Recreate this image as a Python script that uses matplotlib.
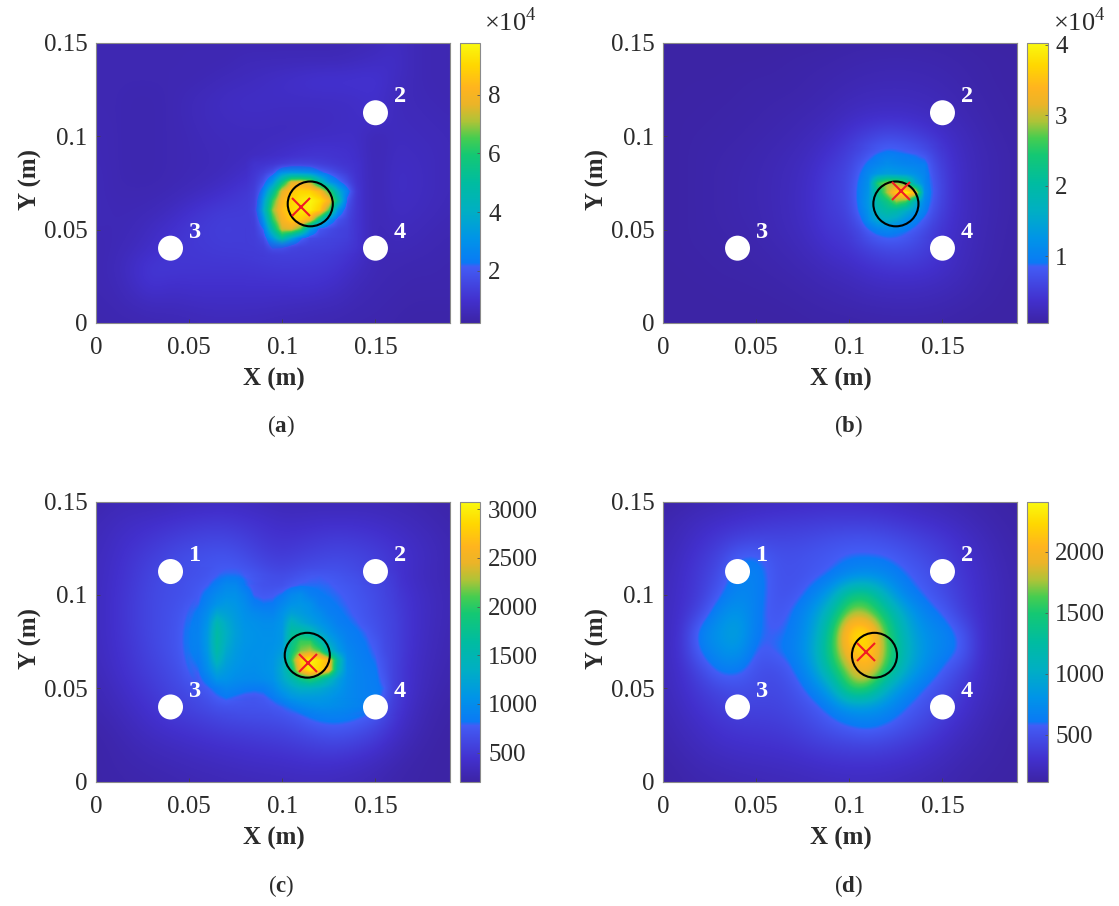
import numpy as np
import matplotlib
matplotlib.use("Agg")
import matplotlib.pyplot as plt
from matplotlib.colors import LinearSegmentedColormap
from matplotlib.patches import Ellipse

plt.rcParams['font.family'] = ['Liberation Serif', 'DejaVu Serif']
plt.rcParams['mathtext.fontset'] = 'custom'
plt.rcParams['mathtext.rm'] = 'Liberation Serif'
plt.rcParams['mathtext.bf'] = 'Liberation Serif:bold'

grid_x = [0.01 * i for i in range(20)]
grid_y = [0.15 - 0.01 * i for i in range(16)]

# rows run from y = 0.15 (top) to y = 0 (bottom); units of the colour bar
values_a = [
 [.5,.5,.5,.5,.5,.5,.5,.5,.5,.5,.5,.5,.5,.5,.55,.6,.8,.6,.5,.5],
 [.5,.5,.5,.5,.5,.5,.5,.5,.6,.6,.6,.6,.6,.6,.7,.8,.9,.6,.5,.5],
 [.5,.5,.5,.5,.5,.5,.55,.65,.7,.8,.9,1.,1.1,1.1,1.1,1.1,.8,.6,.5,.5],
 [.5,.5,.45,.45,.5,.6,.7,.8,.85,.85,.85,.85,.85,.85,.9,1.,.7,.6,.55,.5],
 [.5,.5,.45,.45,.5,.6,.7,.75,.8,.8,.75,.75,.75,.8,.85,1.,.7,.65,.6,.55],
 [.55,.5,.45,.45,.5,.55,.65,.7,.7,.7,.7,.75,.8,.85,.9,.5,.75,.7,.65,.6],
 [.55,.5,.45,.45,.5,.55,.6,.65,.7,.8,.95,1.1,1.2,1.1,1.,.5,.8,.75,.7,.6],
 [.6,.5,.45,.45,.5,.55,.6,.7,.9,1.1,1.2,1.3,1.2,1.1,1.05,.5,.85,.8,.7,.6],
 [.6,.5,.5,.5,.55,.65,.8,1.,1.2,1.4,1.5,1.5,1.4,1.3,1.1,.5,.85,.8,.7,.6],
 [.6,.55,.55,.6,.75,1.,1.2,1.3,1.3,1.4,1.5,1.5,1.4,1.3,1.1,.5,.8,.75,.65,.55],
 [.55,.55,.6,.8,1.,1.2,1.3,1.4,1.3,1.4,1.5,1.5,1.4,1.3,1.1,.5,.7,.65,.55,.5],
 [.5,.55,.7,.9,1.1,1.2,1.25,1.3,1.3,1.4,1.5,1.5,1.4,1.3,1.1,.5,.6,.55,.5,.45],
 [.5,.6,.9,1.2,1.2,1.15,1.15,1.15,1.15,1.2,1.25,1.2,1.2,1.1,.8,.55,.5,.45,.45,.4],
 [.5,.55,.8,1.1,.95,1.,1.,1.,1.,1.,1.,1.05,1.,.85,.6,.5,.45,.4,.4,.4],
 [.45,.5,.6,.7,.7,.75,.8,.8,.8,.8,.75,.7,.65,.6,.5,.45,.4,.35,.35,.35],
 [.4,.45,.45,.5,.5,.55,.6,.6,.6,.55,.5,.5,.45,.45,.4,.4,.35,.3,.3,.3],
]
values_b = [
 [.05,.05,.05,.05,.05,.05,.05,.06,.06,.07,.08,.09,.09,.09,.09,.08,.07,.06,.05,.05],
 [.06,.06,.06,.06,.06,.06,.07,.08,.09,.10,.12,.13,.14,.14,.13,.12,.10,.08,.07,.06],
 [.06,.06,.06,.06,.07,.08,.08,.09,.11,.13,.15,.17,.18,.18,.17,.15,.12,.09,.07,.06],
 [.06,.06,.07,.07,.08,.09,.10,.11,.13,.16,.20,.23,.24,.24,.22,.19,.15,.11,.08,.07],
 [.06,.07,.07,.08,.09,.10,.12,.14,.17,.21,.28,.33,.35,.34,.30,.24,.18,.13,.09,.07],
 [.06,.07,.08,.09,.10,.12,.14,.17,.22,.29,.42,.55,.65,.60,.48,.35,.24,.16,.11,.08],
 [.06,.07,.09,.10,.12,.14,.17,.21,.28,.40,.55,.78,1.0,.90,.80,.46,.28,.18,.13,.09],
 [.06,.07,.09,.11,.13,.15,.19,.24,.33,.50,.60,1.1,1.4,1.3,1.05,.52,.30,.19,.13,.09],
 [.06,.07,.09,.11,.13,.16,.19,.25,.35,.52,.62,1.25,2.9,3.95,1.2,.54,.30,.19,.13,.09],
 [.06,.07,.09,.11,.13,.15,.19,.25,.35,.50,.56,1.25,2.0,1.6,.98,.50,.30,.19,.13,.09],
 [.06,.07,.09,.10,.12,.14,.18,.23,.32,.45,.48,.85,1.1,.92,.66,.42,.28,.18,.12,.08],
 [.06,.07,.08,.09,.10,.12,.15,.19,.26,.36,.42,.55,.65,.66,.55,.38,.26,.17,.11,.08],
 [.06,.06,.07,.08,.09,.10,.12,.15,.19,.25,.30,.38,.43,.45,.42,.34,.23,.15,.10,.07],
 [.05,.06,.06,.07,.07,.08,.09,.11,.14,.17,.20,.25,.28,.28,.27,.23,.18,.12,.08,.06],
 [.05,.05,.05,.06,.06,.06,.07,.08,.10,.12,.14,.16,.17,.18,.17,.15,.12,.09,.07,.05],
 [.05,.05,.05,.05,.05,.05,.05,.06,.07,.08,.08,.09,.10,.10,.10,.09,.07,.06,.05,.05],
]
values_c = [
 [250,300,300,300,320,340,350,360,350,320,300,300,300,300,300,300,290,270,250,230],
 [300,340,380,400,430,460,480,480,450,420,380,380,400,400,400,380,350,320,280,250],
 [320,380,430,480,530,570,600,600,550,480,450,470,500,520,500,470,420,370,320,270],
 [340,400,480,550,620,680,700,720,650,560,520,560,600,620,600,550,480,400,340,280],
 [340,420,500,600,660,680,720,790,770,680,620,700,720,720,650,570,470,380,320,280],
 [350,430,520,620,660,700,800,1050,1000,800,820,950,850,800,750,650,530,420,350,290],
 [350,430,530,620,680,760,1200,1100,1000,950,950,1100,1050,950,850,700,560,430,350,290],
 [350,430,520,620,680,810,1500,1200,1050,1000,1050,1500,1350,1150,950,780,570,430,340,280],
 [340,420,500,600,680,800,1550,1150,1050,1050,1100,2300,2500,1500,1050,830,570,420,330,270],
 [320,400,480,560,640,740,1300,1050,1000,1000,1050,2800,3000,2600,1100,880,560,400,310,260],
 [290,360,440,510,600,660,800,950,900,850,880,1300,1400,1250,1100,950,560,400,290,240],
 [270,320,390,460,540,580,640,700,720,720,750,850,1000,1000,950,850,520,360,260,220],
 [240,280,340,400,450,480,520,560,580,600,620,680,750,780,720,620,450,320,240,210],
 [220,250,290,330,360,390,420,440,460,480,500,530,570,580,540,470,360,270,220,200],
 [220,240,260,280,300,320,340,360,380,390,400,420,430,420,390,340,280,230,210,200],
 [220,230,240,250,260,280,290,300,310,320,330,340,340,330,310,280,240,220,210,200],
]
values_d = [
 [130,150,170,190,210,230,240,250,260,270,270,260,250,230,210,190,170,150,130,120],
 [160,200,240,270,300,320,340,350,360,370,370,370,350,320,290,260,220,180,150,130],
 [180,230,290,350,400,430,440,440,460,490,510,510,480,440,390,340,280,220,170,140],
 [200,260,340,430,590,620,510,500,530,560,600,600,590,530,470,400,320,250,190,150],
 [210,280,370,480,680,680,520,500,540,580,700,760,700,600,530,440,350,270,200,160],
 [220,290,380,560,720,670,520,520,640,880,1450,1500,1000,670,580,480,370,280,210,160],
 [230,300,450,720,850,640,520,600,800,1200,1800,1750,1400,950,680,590,400,290,210,160],
 [230,310,680,820,950,600,570,620,850,1400,2300,2350,1600,1050,780,700,560,300,210,160],
 [230,320,620,760,850,540,600,650,900,1500,2100,2300,1700,1100,820,680,600,300,210,160],
 [220,300,450,640,640,500,470,580,800,1350,1800,2100,1550,1000,750,580,440,280,200,150],
 [210,280,370,450,490,470,450,500,650,900,1650,1600,1000,750,580,480,360,260,190,150],
 [190,250,320,380,420,420,420,460,520,640,800,800,740,590,500,420,320,230,170,140],
 [170,220,270,320,350,360,370,400,460,530,590,640,580,500,430,340,260,200,150,130],
 [150,190,230,270,290,300,310,330,370,400,420,430,410,370,320,270,210,170,140,120],
 [130,160,190,210,230,240,250,260,280,300,310,310,300,280,250,210,170,150,130,120],
 [120,140,160,170,180,190,200,210,220,230,240,240,230,210,190,170,150,130,120,115],
]

# finer readings around the hot spots, at 0.005 steps
detail_x_a = [0.08, 0.145]
detail_y_a = [0.09, 0.035]
detail_a = [
 [1.1,1.1,1.1,1.15,1.2,1.25,1.3,1.3,1.25,1.2,1.15,1.1,1.0,1.0],
 [1.15,1.2,1.2,1.3,1.5,1.7,1.75,1.7,1.55,1.4,1.25,1.15,1.05,1.0],
 [1.2,1.3,1.4,1.9,3.0,3.3,3.2,3.0,2.4,2.0,1.6,1.3,1.1,1.0],
 [1.2,1.4,1.9,3.2,5.5,7.5,7.7,7.2,5.0,3.2,2.4,1.7,1.2,1.05],
 [1.3,1.5,2.6,5.0,7.6,8.6,9.0,8.9,8.3,6.5,4.0,2.5,1.4,1.1],
 [1.3,1.6,3.4,6.3,8.2,9.0,9.4,9.7,9.2,8.2,5.0,2.0,1.3,1.1],
 [1.3,1.7,3.8,6.9,8.4,9.0,9.4,9.5,8.8,6.5,3.0,1.7,1.25,1.1],
 [1.3,1.5,3.0,6.2,8.0,8.8,8.8,8.0,5.5,3.0,1.9,1.5,1.2,1.1],
 [1.3,1.4,2.2,5.0,7.4,7.6,6.5,3.5,2.0,1.7,1.5,1.4,1.2,1.1],
 [1.3,1.35,1.7,3.2,5.0,3.6,2.3,1.7,1.6,1.5,1.45,1.35,1.2,1.05],
 [1.3,1.3,1.4,2.3,2.2,1.7,1.5,1.5,1.5,1.5,1.4,1.3,1.15,1.0],
 [1.25,1.25,1.25,1.3,1.5,1.4,1.4,1.4,1.4,1.4,1.35,1.2,1.05,.95],
]
detail_x_b = [0.10, 0.15]
detail_y_b = [0.095, 0.045]
detail_b = [
 [.46,.5,.55,.62,.72,.7,.65,.6,.55,.48,.4],
 [.55,.65,.78,.92,1.02,.96,.92,.9,.8,.6,.45],
 [.58,.75,.95,1.05,1.15,1.1,1.05,1.02,.98,.68,.5],
 [.6,.85,1.1,1.3,1.4,1.35,1.3,1.2,1.05,.72,.52],
 [.62,.92,1.2,2.5,2.9,2.9,2.6,1.6,1.1,.72,.52],
 [.62,.95,1.25,2.2,2.9,3.6,3.95,3.4,1.2,.75,.54],
 [.6,.95,1.3,2.0,2.3,2.8,2.6,1.7,1.1,.72,.52],
 [.56,.9,1.25,1.8,2.0,1.9,1.6,1.3,.98,.68,.5],
 [.52,.75,1.15,1.5,1.6,1.45,1.2,1.0,.8,.6,.47],
 [.48,.62,.85,1.05,1.1,1.0,.92,.8,.66,.52,.42],
 [.42,.52,.62,.7,.74,.72,.68,.62,.55,.46,.38],
]
detail_x_c = [0.045, 0.165]
detail_y_c = [0.115, 0.035]
detail_c = [
 [640,660,680,700,730,770,790,750,700,680,650,630,640,680,720,730,720,700,680,660,620,600,560,520,480],
 [660,680,700,730,790,880,860,780,720,680,660,650,670,720,770,780,760,730,700,680,640,610,570,530,490],
 [670,700,730,780,870,960,960,820,740,700,690,700,760,800,800,800,790,760,730,700,660,620,580,540,500],
 [680,710,760,860,970,1030,1030,930,780,750,760,820,950,1000,880,830,810,790,760,720,680,640,590,550,500],
 [700,730,790,920,1060,1120,1080,990,860,820,830,940,1050,1080,1030,880,840,810,780,740,700,650,600,550,500],
 [720,760,850,1000,1260,1200,1120,1030,970,930,920,1040,1200,1150,1080,1000,880,840,800,760,710,660,610,560,510],
 [740,790,880,1070,1500,1300,1150,1060,1030,1000,1000,1080,1450,1300,1180,1080,980,870,830,790,730,680,620,570,510],
 [750,810,900,1120,1600,1350,1180,1080,1050,1030,1030,1100,1650,1650,1500,1250,1080,950,870,830,780,700,630,570,510],
 [750,810,900,1130,1620,1330,1160,1080,1050,1040,1040,1100,1750,2050,2050,1650,1250,1050,900,850,810,740,640,570,510],
 [740,800,880,1110,1580,1270,1130,1060,1040,1040,1060,1150,1850,2200,2300,2100,1500,1150,950,880,830,770,650,570,510],
 [720,770,840,1060,1450,1200,1100,1050,1030,1040,1080,1250,2000,2800,3050,2900,2600,1600,1000,900,850,800,680,570,500],
 [690,740,800,1000,1250,1130,1060,1020,1010,1040,1080,1300,1800,2650,3000,2850,2600,1500,1020,920,870,830,700,560,500],
 [660,700,750,880,1080,1060,1000,980,970,1000,1050,1250,1500,1800,2000,1800,1500,1200,1000,920,880,850,730,560,490],
 [620,660,710,770,860,930,900,860,840,850,950,1120,1250,1350,1350,1300,1200,1100,980,920,880,860,780,560,480],
 [590,620,650,700,770,820,780,740,730,760,830,950,1080,1130,1130,1120,1080,1020,960,920,890,870,740,540,470],
 [550,580,610,640,680,700,690,680,680,700,740,800,900,980,1020,1020,1000,960,920,890,860,810,640,520,450],
 [520,540,560,590,610,620,630,630,640,650,670,710,760,800,830,840,830,810,780,740,700,650,560,480,420],
]

limits_a = [0.23, 9.77]
limits_b = [0.05, 4.03]
limits_c = [200, 3080]
limits_d = [115, 2413]
cbar_ticks_a = [2, 4, 6, 8]
cbar_ticks_b = [1, 2, 3, 4]
cbar_ticks_c = [500, 1000, 1500, 2000, 2500, 3000]
cbar_ticks_d = [500, 1000, 1500, 2000]
x_ticks = [0, 0.05, 0.1, 0.15]
y_ticks = [0, 0.05, 0.1, 0.15]
tick_labels = ['0', '0.05', '0.1', '0.15']
sensor_x_all = [0.04, 0.15, 0.04, 0.15]
sensor_y_all = [0.1125, 0.1125, 0.04, 0.04]
sensor_names = ['1', '2', '3', '4']
sensors_a = ['2', '3', '4']
sensors_b = ['2', '3', '4']
sensors_c = ['1', '2', '3', '4']
sensors_d = ['1', '2', '3', '4']
source_a = (0.115, 0.0637)
source_b = (0.125, 0.0637)
source_c = (0.1134, 0.0677)
source_d = (0.1135, 0.0677)
estimate_a = (0.110, 0.0618)
estimate_b = (0.128, 0.0707)
estimate_c = (0.114, 0.0637)
estimate_d = (0.1087, 0.0695)

cmap = LinearSegmentedColormap.from_list('parula_like', [
    (0.00, (60/255, 36/255, 165/255)),
    (0.08, (66/255, 48/255, 205/255)),
    (0.20, (66/255, 92/255, 245/255)),
    (0.215, (10/255, 122/255, 245/255)),
    (0.30, (0/255, 148/255, 232/255)),
    (0.40, (0/255, 175/255, 195/255)),
    (0.50, (0/255, 188/255, 160/255)),
    (0.60, (20/255, 200/255, 115/255)),
    (0.66, (70/255, 205/255, 80/255)),
    (0.72, (175/255, 195/255, 55/255)),
    (0.78, (235/255, 180/255, 40/255)),
    (0.84, (255/255, 180/255, 30/255)),
    (0.92, (255/255, 215/255, 0/255)),
    (1.00, (250/255, 250/255, 15/255)),
], N=1024)

W, H = 1119, 906
fig = plt.figure(figsize=(W / 100, H / 100), dpi=100, facecolor='white')
TXT = '#2b2b2b'
EDGE = '#8a8a8a'


def rect(l, t, r, b):
    return [l / W, 1 - b / H, (r - l) / W, (b - t) / H]


def edge_fade(shape):
    # the finer patch melts into the coarse field at its rim
    fx = np.minimum(np.arange(shape[1]), np.arange(shape[1])[::-1])
    fy = np.minimum(np.arange(shape[0]), np.arange(shape[0])[::-1])
    return np.minimum.outer(fy, fx).clip(0, 2) / 2.0


def panel(px, py, vals, lims, ticks, names, src, est, letter, cap_x, cap_y, exp_x, detail=None):
    ax = fig.add_axes(rect(px, py, px + 354, py + 280.2))
    cax = fig.add_axes(rect(px + 364, py, px + 384.5, py + 280.2))
    z = np.array(vals, dtype=float)[::-1]
    ys = grid_y[::-1]
    dx = grid_x[1] - grid_x[0]
    im = ax.imshow(z, origin='lower', aspect='auto', cmap=cmap, vmin=lims[0], vmax=lims[1],
                   extent=(grid_x[0] - dx / 2, grid_x[-1] + dx / 2, ys[0] - dx / 2, ys[-1] + dx / 2),
                   interpolation='bicubic', zorder=0)
    if detail is not None:
        xr, yr, d = detail
        d = np.array(d, dtype=float)[::-1]
        h = (xr[1] - xr[0]) / (d.shape[1] - 1) / 2
        ax.imshow(d, origin='lower', aspect='auto', cmap=cmap, vmin=lims[0], vmax=lims[1],
                  extent=(xr[0] - h, xr[1] + h, yr[1] - h, yr[0] + h), interpolation='bilinear',
                  alpha=edge_fade(d.shape), zorder=1)
    ax.set_xlim(0, 0.19)
    ax.set_ylim(0, 0.15)
    ax.set_xticks(x_ticks, tick_labels)
    ax.set_yticks(y_ticks, tick_labels)
    ax.tick_params(direction='in', length=3, width=0.6, color='#444444', labelsize=18,
                   labelcolor=TXT)
    ax.tick_params(axis='x', pad=10)
    ax.tick_params(axis='y', pad=6)
    for s in ax.spines.values():
        s.set_color(EDGE)
        s.set_linewidth(0.8)
    ax.set_xlabel('X (m)', fontsize=18, fontweight='bold', color=TXT)
    ax.set_ylabel('Y (m)', fontsize=18, fontweight='bold', color=TXT)
    ax.xaxis.set_label_coords(0.503, -0.162)
    ax.yaxis.set_label_coords(-0.153, 0.51)

    for sx, sy, n in zip(sensor_x_all, sensor_y_all, sensor_names):
        if n in names:
            ax.add_patch(Ellipse((sx, sy), 0.0134, 0.0134, fc='white', ec='none', zorder=3))
            ax.text(sx + 0.0132, sy + 0.0085, n, color='white', fontsize=17.5, fontweight='bold',
                    ha='center', va='center', zorder=4)
    ax.add_patch(Ellipse(src, 0.0242, 0.024, fc='none', ec='black', lw=1.5, zorder=5))
    ax.plot([est[0]], [est[1]], marker='x', ms=13.5, mew=1.5, color='#f01c24', ls='none', zorder=6)

    cb = fig.colorbar(im, cax=cax, ticks=ticks)
    cb.ax.tick_params(direction='in', length=2.5, width=0.6, color='#555555', labelsize=18,
                      labelcolor=TXT, pad=5.5)
    cb.outline.set_edgecolor(EDGE)
    cb.outline.set_linewidth(0.8)
    if exp_x is not None:
        cax.text(exp_x, 1.026, r'$\times\mathrm{10}^{\mathrm{4}}$', transform=cax.transAxes, fontsize=19,
                 color=TXT, ha='left', va='bottom')
    fig.text(cap_x / W, 1 - cap_y / H, r'($\mathbf{%s}$)' % letter, fontsize=16.5, color=TXT,
             ha='center', va='center')


panel(96, 42.7, values_a, limits_a, cbar_ticks_a, sensors_a, source_a, estimate_a, 'a', 281, 426, 1.17,
      (detail_x_a, detail_y_a, detail_a))
panel(663, 42.7, values_b, limits_b, cbar_ticks_b, sensors_b, source_b, estimate_b, 'b', 848.5, 426, 1.27,
      (detail_x_b, detail_y_b, detail_b))
panel(96, 501.5, values_c, limits_c, cbar_ticks_c, sensors_c, source_c, estimate_c, 'c', 281, 886, None,
      (detail_x_c, detail_y_c, detail_c))
panel(663, 501.5, values_d, limits_d, cbar_ticks_d, sensors_d, source_d, estimate_d, 'd', 848.5, 886, None)

fig.savefig('out.png', dpi=100)
